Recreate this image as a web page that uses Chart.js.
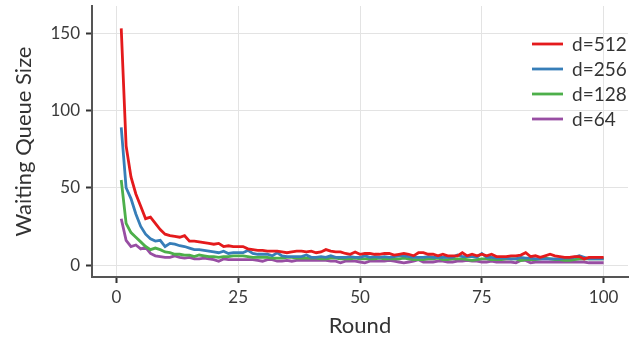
<!DOCTYPE html>
<html>
<head>
<meta charset="utf-8">
<script src="https://cdn.jsdelivr.net/npm/chart.js@4.4.0/dist/chart.umd.min.js"></script>
<style>
	body { margin: 0; background: #fff; }
	#wrap { width: 644px; height: 339px; }
</style>
</head>
<body>
<div id="wrap"><canvas id="myCanvas" width="644" height="339"></canvas></div>
<script>
// rounds 1..100
const rounds = Array.from({ length: 100 }, (_, i) => i + 1);

const d512 = [
	153, 77, 57, 46, 38, 30, 31, 27, 23, 20,
	19, 18.5, 18, 19, 15.5, 15.5, 15, 14.5, 14, 13.5,
	14, 12, 12.5, 12, 12, 12, 10.5, 10, 9.5, 9.5,
	9, 9, 9, 8.5, 8, 8.5, 9, 9, 8.5, 9,
	8, 8.5, 10, 9, 8.5, 8.5, 7.5, 7, 8.5, 7,
	7.5, 7.5, 7, 7, 7.5, 7.5, 6.5, 7, 7.5, 7,
	6, 8, 8, 7, 7, 6, 7, 6, 6, 6,
	8, 6, 7, 6, 7, 6, 7, 5.5, 5.5, 5.5,
	6, 6, 6.5, 8, 5.5, 6, 5, 6, 7, 6,
	5.5, 5, 5, 5.5, 5.5, 4, 5, 5, 5, 5,
];
const d256 = [
	89, 50, 43, 33, 25, 20, 17, 15.5, 16, 12,
	14, 13.5, 12.5, 12, 11, 10, 10, 9.5, 9, 8.5,
	8, 9, 7.5, 8, 8, 8, 9.5, 7.5, 7, 7,
	7, 6, 8, 6, 5.5, 5.5, 5.5, 5.5, 6.5, 5,
	5, 5.5, 5, 6, 5, 5, 5, 5.5, 5, 5,
	6, 5, 5.5, 5, 5.5, 5, 5.5, 6, 6, 5.5,
	5, 5, 5, 5.5, 5, 5, 5, 5, 5, 6.5,
	5.5, 5.5, 5.5, 5, 7.5, 5, 5, 4.5, 4.5, 4.5,
	4, 4, 5, 4.5, 4.5, 4, 4, 4, 4, 4,
	4, 4.5, 4.5, 5, 6, 5, 4, 4, 4, 4,
];
const d128 = [
	55, 27, 21, 18, 15, 12, 10, 11, 10, 8.5,
	8, 7, 7, 6.5, 6.5, 5.5, 6.5, 6, 5.5, 5.5,
	5, 5.5, 5.5, 6, 6, 6, 5.5, 5, 5, 5,
	5, 4.5, 4.5, 4.5, 5, 5, 4.5, 4.5, 4.5, 4.5,
	4.5, 4, 4, 4.5, 4.5, 4, 4, 4, 4.5, 4,
	4, 4, 4, 4.5, 4, 4, 4, 4, 4.5, 4,
	3.5, 3.5, 3.5, 4, 4, 4.5, 3.5, 3.5, 4, 4,
	4, 3.5, 3, 3.5, 4, 4, 3.5, 3.5, 3.5, 4,
	4, 4, 3, 3.5, 3.5, 3.5, 4, 4.5, 4, 3.5,
	3.5, 3, 3, 3.5, 4, 4, 4, 4, 4, 4,
];
const d64 = [
	30, 16, 12, 13, 10.5, 11.5, 7.5, 6, 5.5, 5,
	5, 6, 5, 4.5, 5, 4, 4, 4.5, 4, 3.5,
	2.5, 4, 3.5, 3.5, 3.5, 3.5, 3.5, 3.5, 3, 2.5,
	3.5, 3.5, 2.5, 2.5, 3, 2.5, 3, 3, 3, 3,
	3, 3, 3, 2.5, 2.5, 1.5, 2.5, 2.5, 2.5, 2,
	1.5, 2.5, 2.5, 2.5, 2.5, 3, 2.5, 2, 1.5, 2,
	2.5, 3.5, 2, 2, 2, 2.5, 2.5, 2, 2, 2.5,
	2.5, 3, 2.5, 2.5, 2, 2, 2.5, 2, 2, 2,
	2, 1.5, 3, 3, 1.5, 2, 2, 2, 2, 2,
	2, 2, 2, 2, 2, 2, 1.5, 1.5, 1.5, 1.5,
];

const seriesLabels = ["d=512", "d=256", "d=128", "d=64"];
const seriesColors = ["#E41A1C", "#377EB8", "#4DAF4A", "#984EA3"];
const xTicks = [0, 25, 50, 75, 100];
const yTicks = [0, 50, 100, 150];

const fontFamily = "Lato, 'DejaVu Sans', sans-serif";

function toPoints(values) {
	return values.map((v, i) => ({ x: rounds[i], y: v }));
}

// legend drawn inside the plot, top right
const insideLegend = {
	id: "insideLegend",
	afterDraw(chart) {
		const c = chart.ctx;
		c.save();
		c.font = "19px " + fontFamily;
		c.textBaseline = "middle";
		c.fillStyle = "#333";
		chart.data.datasets.forEach((ds, i) => {
			const y = 44 + i * 25;
			c.strokeStyle = ds.borderColor;
			c.lineWidth = 2.8;
			c.beginPath();
			c.moveTo(532, y);
			c.lineTo(563, y);
			c.stroke();
			c.fillText(ds.label, 572, y + 1);
		});
		c.restore();
	},
};

const ctx = document.getElementById("myCanvas").getContext("2d");
const myChart = new Chart(ctx, {
	type: "line",
	data: {
		datasets: [d512, d256, d128, d64].map((vals, i) => ({
			label: seriesLabels[i],
			data: toPoints(vals),
			borderColor: seriesColors[i],
			backgroundColor: seriesColors[i],
			borderWidth: 2.8,
			pointRadius: 0,
			tension: 0,
			fill: false,
		})),
	},
	options: {
		responsive: false,
		animation: false,
		layout: { padding: { top: 6, right: 16, left: 0, bottom: 0 } },
		plugins: {
			legend: { display: false },
			tooltip: { enabled: false },
		},
		scales: {
			x: {
				type: "linear",
				min: -5,
				max: 105,
				afterBuildTicks: (scale) => {
					scale.ticks = xTicks.map((v) => ({ value: v }));
				},
				afterFit: (scale) => {
					scale.height = 62;
					scale.paddingLeft = 0;
					scale.paddingRight = 0;
				},
				grid: {
					color: "#e3e3e3",
					lineWidth: 1,
					tickColor: "#333",
					tickWidth: 2,
					tickLength: 6,
				},
				border: { color: "#555", width: 2 },
				ticks: {
					color: "#3a3a3a",
					padding: 4,
					maxRotation: 0,
					font: { family: fontFamily, size: 17 },
				},
				title: {
					display: true,
					text: "Round",
					color: "#333",
					padding: { top: 0, bottom: 0 },
					font: { family: fontFamily, size: 22 },
				},
			},
			y: {
				type: "linear",
				min: -7.7,
				max: 167.5,
				afterBuildTicks: (scale) => {
					scale.ticks = yTicks.map((v) => ({ value: v }));
				},
				afterFit: (scale) => {
					scale.width = 92;
					scale.paddingTop = 0;
					scale.paddingBottom = 0;
				},
				grid: {
					color: "#e3e3e3",
					lineWidth: 1,
					tickColor: "#333",
					tickWidth: 2,
					tickLength: 6,
				},
				border: { color: "#555", width: 2 },
				ticks: {
					color: "#3a3a3a",
					padding: 6,
					font: { family: fontFamily, size: 17 },
				},
				title: {
					display: true,
					text: "Waiting Queue Size",
					color: "#333",
					padding: { top: 11, bottom: 0 },
					font: { family: fontFamily, size: 22 },
				},
			},
		},
	},
	plugins: [insideLegend],
});
</script>
</body>
</html>
